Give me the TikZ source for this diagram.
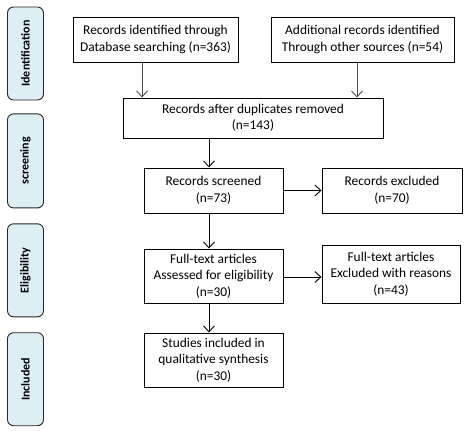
\documentclass[tikz,border=0pt]{standalone}
\usepackage{fontspec}
\setmainfont{Carlito}
\usepackage{tikz}
\usetikzlibrary{positioning, arrows.meta}
\definecolor{stagebg}{HTML}{DDEEF5}
\tikzstyle{stage} = [font=\fontsize{12}{14}\selectfont\bfseries, rectangle, rounded corners=6pt, minimum width=36pt, draw=black!85, line width=0.9pt, fill=stagebg, inner sep=0pt]
\tikzstyle{record} = [font=\fontsize{13.4}{16.5}\selectfont, rectangle, minimum height=45pt, align=center, draw=black, line width=1pt, inner sep=2pt]
\tikzstyle{arrow} = [line width=0.9pt, -{Straight Barb[length=6pt,width=11pt]}]

\begin{document}
\begin{tikzpicture}[x=1pt, y=1pt]
  \useasboundingbox (0,0) rectangle (467,-431);
  % stages on the left
  \node (id stage) [stage, minimum height=93pt] at (25.5,-53.5) {\rotatebox{90}{Identification}};
  \node (scr stage) [stage, minimum height=94pt, below=13pt of id stage] {\rotatebox{90}{screening}};
  \node (eli stage) [stage, minimum height=93pt, below=15pt of scr stage] {\rotatebox{90}{Eligibility}};
  \node (inc stage) [stage, minimum height=93pt, below=15pt of eli stage] {\rotatebox{90}{Included}};
  % flow boxes
  \node (database) [record, minimum width=165pt] at (155.5,-39.5) {Records identified through\\
    Database searching (n=363)};
  \node (other) [record, minimum width=183pt, right=32pt of database] {Additional records identified\\
    Through other sources (n=54)};
  \node (dup) [record, minimum width=260pt, minimum height=40pt, below=35pt of database.south west, anchor=north west, xshift=50pt] {Records after duplicates removed\\
    (n=143)};
  \node (screened) [record, minimum width=139pt, below=29pt of dup.south west, anchor=north west, xshift=21pt] {Records screened\\
    (n=73)};
  \node (excluded) [record, minimum width=140pt, right=38pt of screened] {Records excluded\\
    (n=70)};
  \node (fulltext) [record, minimum width=139pt, minimum height=54pt, below=35pt of screened] {Full-text articles\\
    Assessed for eligibility\\
    (n=30)};
  \node (reasons) [record, minimum width=138pt, minimum height=58pt, right=38pt of fulltext.south east, anchor=south west] {Full-text articles\\
    Excluded with reasons\\
    (n=43)};
  \node (included) [record, minimum width=139pt, minimum height=54pt, below=29pt of fulltext] {Studies included in\\
    qualitative synthesis\\
    (n=30)};
  \draw[arrow, black!70] ([xshift=-13.5pt]database.south) -- ([xshift=-13.5pt]database.south |- dup.north);
  \draw[arrow, black!70] ([xshift=-5.5pt]other.south) -- ([xshift=-5.5pt]other.south |- dup.north);
  \draw[arrow] ([xshift=-4.5pt]screened.north |- dup.south) -- ([xshift=-4.5pt]screened.north);
  \draw[arrow] (screened.east) -- (excluded.west);
  \draw[arrow] ([xshift=-4.5pt]screened.south) -- ([xshift=-4.5pt]fulltext.north);
  \draw[arrow] ([yshift=-1pt]fulltext.east) -- ([yshift=-1pt]fulltext.east -| reasons.west);
  \draw[arrow] ([xshift=-4.5pt]fulltext.south) -- ([xshift=-4.5pt]included.north);
\end{tikzpicture}
\end{document}
